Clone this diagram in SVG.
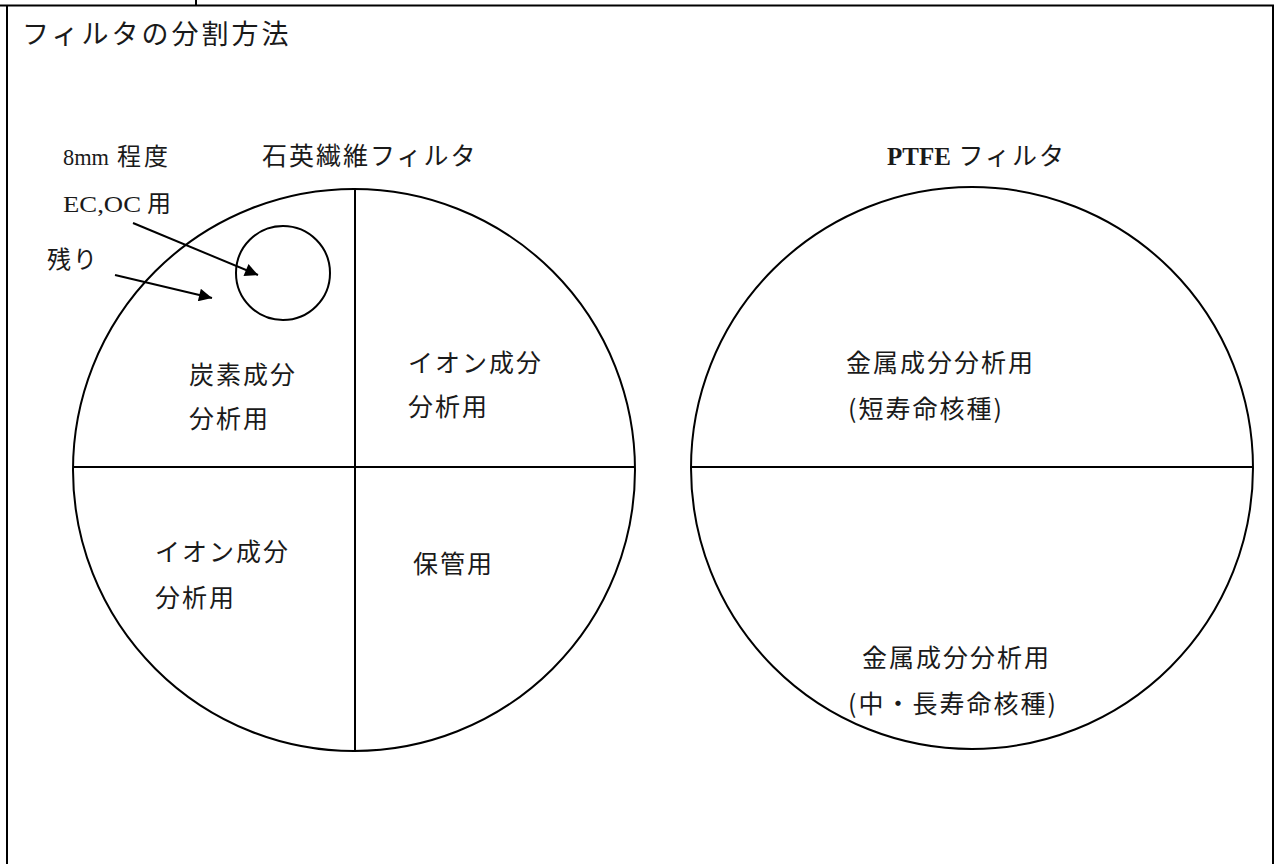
<svg xmlns="http://www.w3.org/2000/svg" width="1274" height="864" viewBox="0 0 1274 864">
<defs>
<style>
.ln{stroke:#000;stroke-width:2;fill:none}
.t{font-family:"Noto Sans CJK JP","Liberation Sans",sans-serif;font-size:25px;fill:#1a1a1a;letter-spacing:2px}
.s{font-family:"Liberation Serif","Noto Sans CJK JP",serif;font-size:23px;fill:#1a1a1a}
</style>
<marker id="ah" viewBox="0 0 10 10" refX="10" refY="5" markerWidth="19" markerHeight="13" markerUnits="userSpaceOnUse" orient="auto">
<path d="M0,0 L10,5 L0,10 z" fill="#000"/>
</marker>
</defs>
<rect width="1274" height="864" fill="#fff"/>
<g id="frame">
<line class="ln" x1="0" y1="5.5" x2="1274" y2="5.5" stroke-width="2.5"/>
<line class="ln" x1="7" y1="5" x2="7" y2="864" stroke-width="2.5"/>
<line class="ln" x1="1273" y1="5" x2="1273" y2="864" stroke-width="2"/>
<line class="ln" x1="196" y1="0" x2="196" y2="6"/>
</g>
<text id="title" class="t" x="22" y="44" style="font-size:27px;letter-spacing:3px">フィルタの分割方法</text>
<g id="quartz">
<circle class="ln" cx="354" cy="470" r="281"/>
<line class="ln" x1="73" y1="467" x2="635" y2="467"/>
<line class="ln" x1="355" y1="190" x2="355" y2="752"/>
<circle class="ln" cx="283" cy="273" r="47"/>
<text class="t" x="262" y="165">石英繊維フィルタ</text>
<text class="t" x="189" y="384">炭素成分</text>
<text class="t" x="189" y="428">分析用</text>
<text class="t" x="408" y="372">イオン成分</text>
<text class="t" x="408" y="416">分析用</text>
<text class="t" x="155" y="561">イオン成分</text>
<text class="t" x="155" y="607">分析用</text>
<text class="t" x="413" y="573">保管用</text>
</g>
<g id="labels">
<text class="s" x="63" y="165" textLength="46" lengthAdjust="spacingAndGlyphs" style="font-size:24px">8mm</text>
<text class="t" x="117" y="165" style="font-size:24px;letter-spacing:3px">程度</text>
<text class="s" x="63" y="212" textLength="78" lengthAdjust="spacingAndGlyphs">EC,OC</text>
<text class="t" x="147" y="212" style="font-size:24px">用</text>
<text class="t" x="47" y="268" style="font-size:24px">残り</text>
</g>
<g id="ptfe">
<circle class="ln" cx="972" cy="468" r="281"/>
<line class="ln" x1="691" y1="467" x2="1253" y2="467"/>
<text class="t" x="887" y="165"><tspan style="font-family:'Liberation Serif',serif;font-weight:bold;letter-spacing:0">PTFE</tspan> フィルタ</text>
<text class="t" x="846" y="372">金属成分分析用</text>
<text class="t" x="848" y="418">(短寿命核種)</text>
<text class="t" x="862" y="667">金属成分分析用</text>
<text class="t" x="848" y="713">(中・長寿命核種)</text>
</g>
<g id="connectors">
<line class="ln" x1="133" y1="223" x2="258" y2="275" marker-end="url(#ah)"/>
<line class="ln" x1="115" y1="275" x2="212" y2="298" marker-end="url(#ah)"/>
</g>
</svg>
